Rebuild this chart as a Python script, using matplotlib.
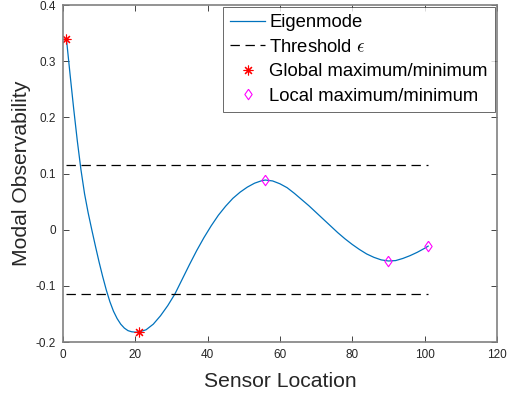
import matplotlib
matplotlib.use("Agg")
matplotlib.rcParams["font.family"] = ["Liberation Sans", "DejaVu Sans"]
matplotlib.rcParams["mathtext.fontset"] = "cm"
import matplotlib.pyplot as plt

# ── 数据 ──
sensor_x = [1, 2, 3, 4, 5, 6, 7, 8, 9, 10, 11, 12, 13, 14, 15, 16, 17, 18,
            19, 20, 21, 23, 25, 27, 29, 31, 33, 35, 37, 39, 41, 43, 45, 47,
            49, 51, 53, 55, 56, 58, 60, 62, 64, 66, 68, 70, 72, 74, 76, 78,
            80, 82, 84, 86, 88, 90, 92, 94, 96, 98, 100, 101]
mode_y = [0.339, 0.276, 0.215, 0.158, 0.107, 0.064, 0.030, 0.000, -0.029,
          -0.057, -0.083, -0.107, -0.128, -0.145, -0.158, -0.168, -0.175,
          -0.1795, -0.1815, -0.1822, -0.182, -0.178, -0.168, -0.153, -0.135,
          -0.114, -0.088, -0.062, -0.037, -0.014, 0.007, 0.026, 0.042, 0.056,
          0.067, 0.076, 0.083, 0.0875, 0.0886, 0.087, 0.082, 0.075, 0.065,
          0.054, 0.043, 0.031, 0.019, 0.007, -0.005, -0.016, -0.026, -0.035,
          -0.043, -0.049, -0.0535, -0.0555, -0.0548, -0.051, -0.046, -0.040,
          -0.033, -0.029]

threshold = 0.115
threshold_x = [1, 101]

global_x = [1, 21]
global_y = [0.339, -0.182]

local_x = [56, 90, 101]
local_y = [0.0886, -0.0555, -0.029]

xticks = [0, 20, 40, 60, 80, 100, 120]
yticks = [-0.2, -0.1, 0, 0.1, 0.2, 0.3, 0.4]
ytick_labels = ["-0.2", "-0.1", "0", "0.1", "0.2", "0.3", "0.4"]

AX_COLOR = "#262626"
# MATLAB 风格菱形（比 'd' 稍宽）
DIAMOND = [(0, 1), (0.7, 0), (0, -1), (-0.7, 0), (0, 1)]

fig = plt.figure(figsize=(5.07, 3.96), dpi=100)
ax = fig.add_axes([0.124, 0.136, 0.856, 0.851])

ax.plot(sensor_x, mode_y, color="#0072BD", linewidth=0.9, label="Eigenmode")
ax.plot(threshold_x, [threshold, threshold], color="black", linewidth=0.9,
        dashes=(7.5, 4.5), label="Threshold $\\epsilon$")
ax.plot(threshold_x, [-threshold, -threshold], color="black", linewidth=0.9,
        dashes=(7.5, 4.5))
ax.plot(global_x, global_y, linestyle="none", marker=(8, 2, 0), markersize=7,
        color="red", markeredgewidth=0.8, label="Global maximum/minimum")
ax.plot(local_x, local_y, linestyle="none", marker=DIAMOND, markersize=7.5,
        markerfacecolor="none", markeredgecolor="#FF00FF", markeredgewidth=0.8,
        label="Local maximum/minimum")

ax.set_xlim(0, 120)
ax.set_ylim(-0.2, 0.4)
ax.set_xticks(xticks)
ax.set_yticks(yticks)
ax.set_yticklabels(ytick_labels)
ax.tick_params(direction="in", top=True, right=True, length=4, width=0.6,
               colors=AX_COLOR, labelsize=8.5, pad=5)
for sp in ax.spines.values():
    sp.set_color("#808080")
    sp.set_linewidth(1.2)

ax.set_xlabel("Sensor Location", fontsize=15.2, color=AX_COLOR, labelpad=8)
ax.set_ylabel("Modal Observability", fontsize=15.2, color=AX_COLOR, labelpad=3)

leg = ax.legend(loc="upper right", fontsize=13.3, frameon=True, fancybox=False,
                borderaxespad=0.1, handlelength=1.9, handletextpad=0.2,
                borderpad=0.4, labelspacing=0.4)
leg.get_frame().set_edgecolor("#262626")
leg.get_frame().set_linewidth(0.6)

fig.savefig("out.png", dpi=100, facecolor="white")
